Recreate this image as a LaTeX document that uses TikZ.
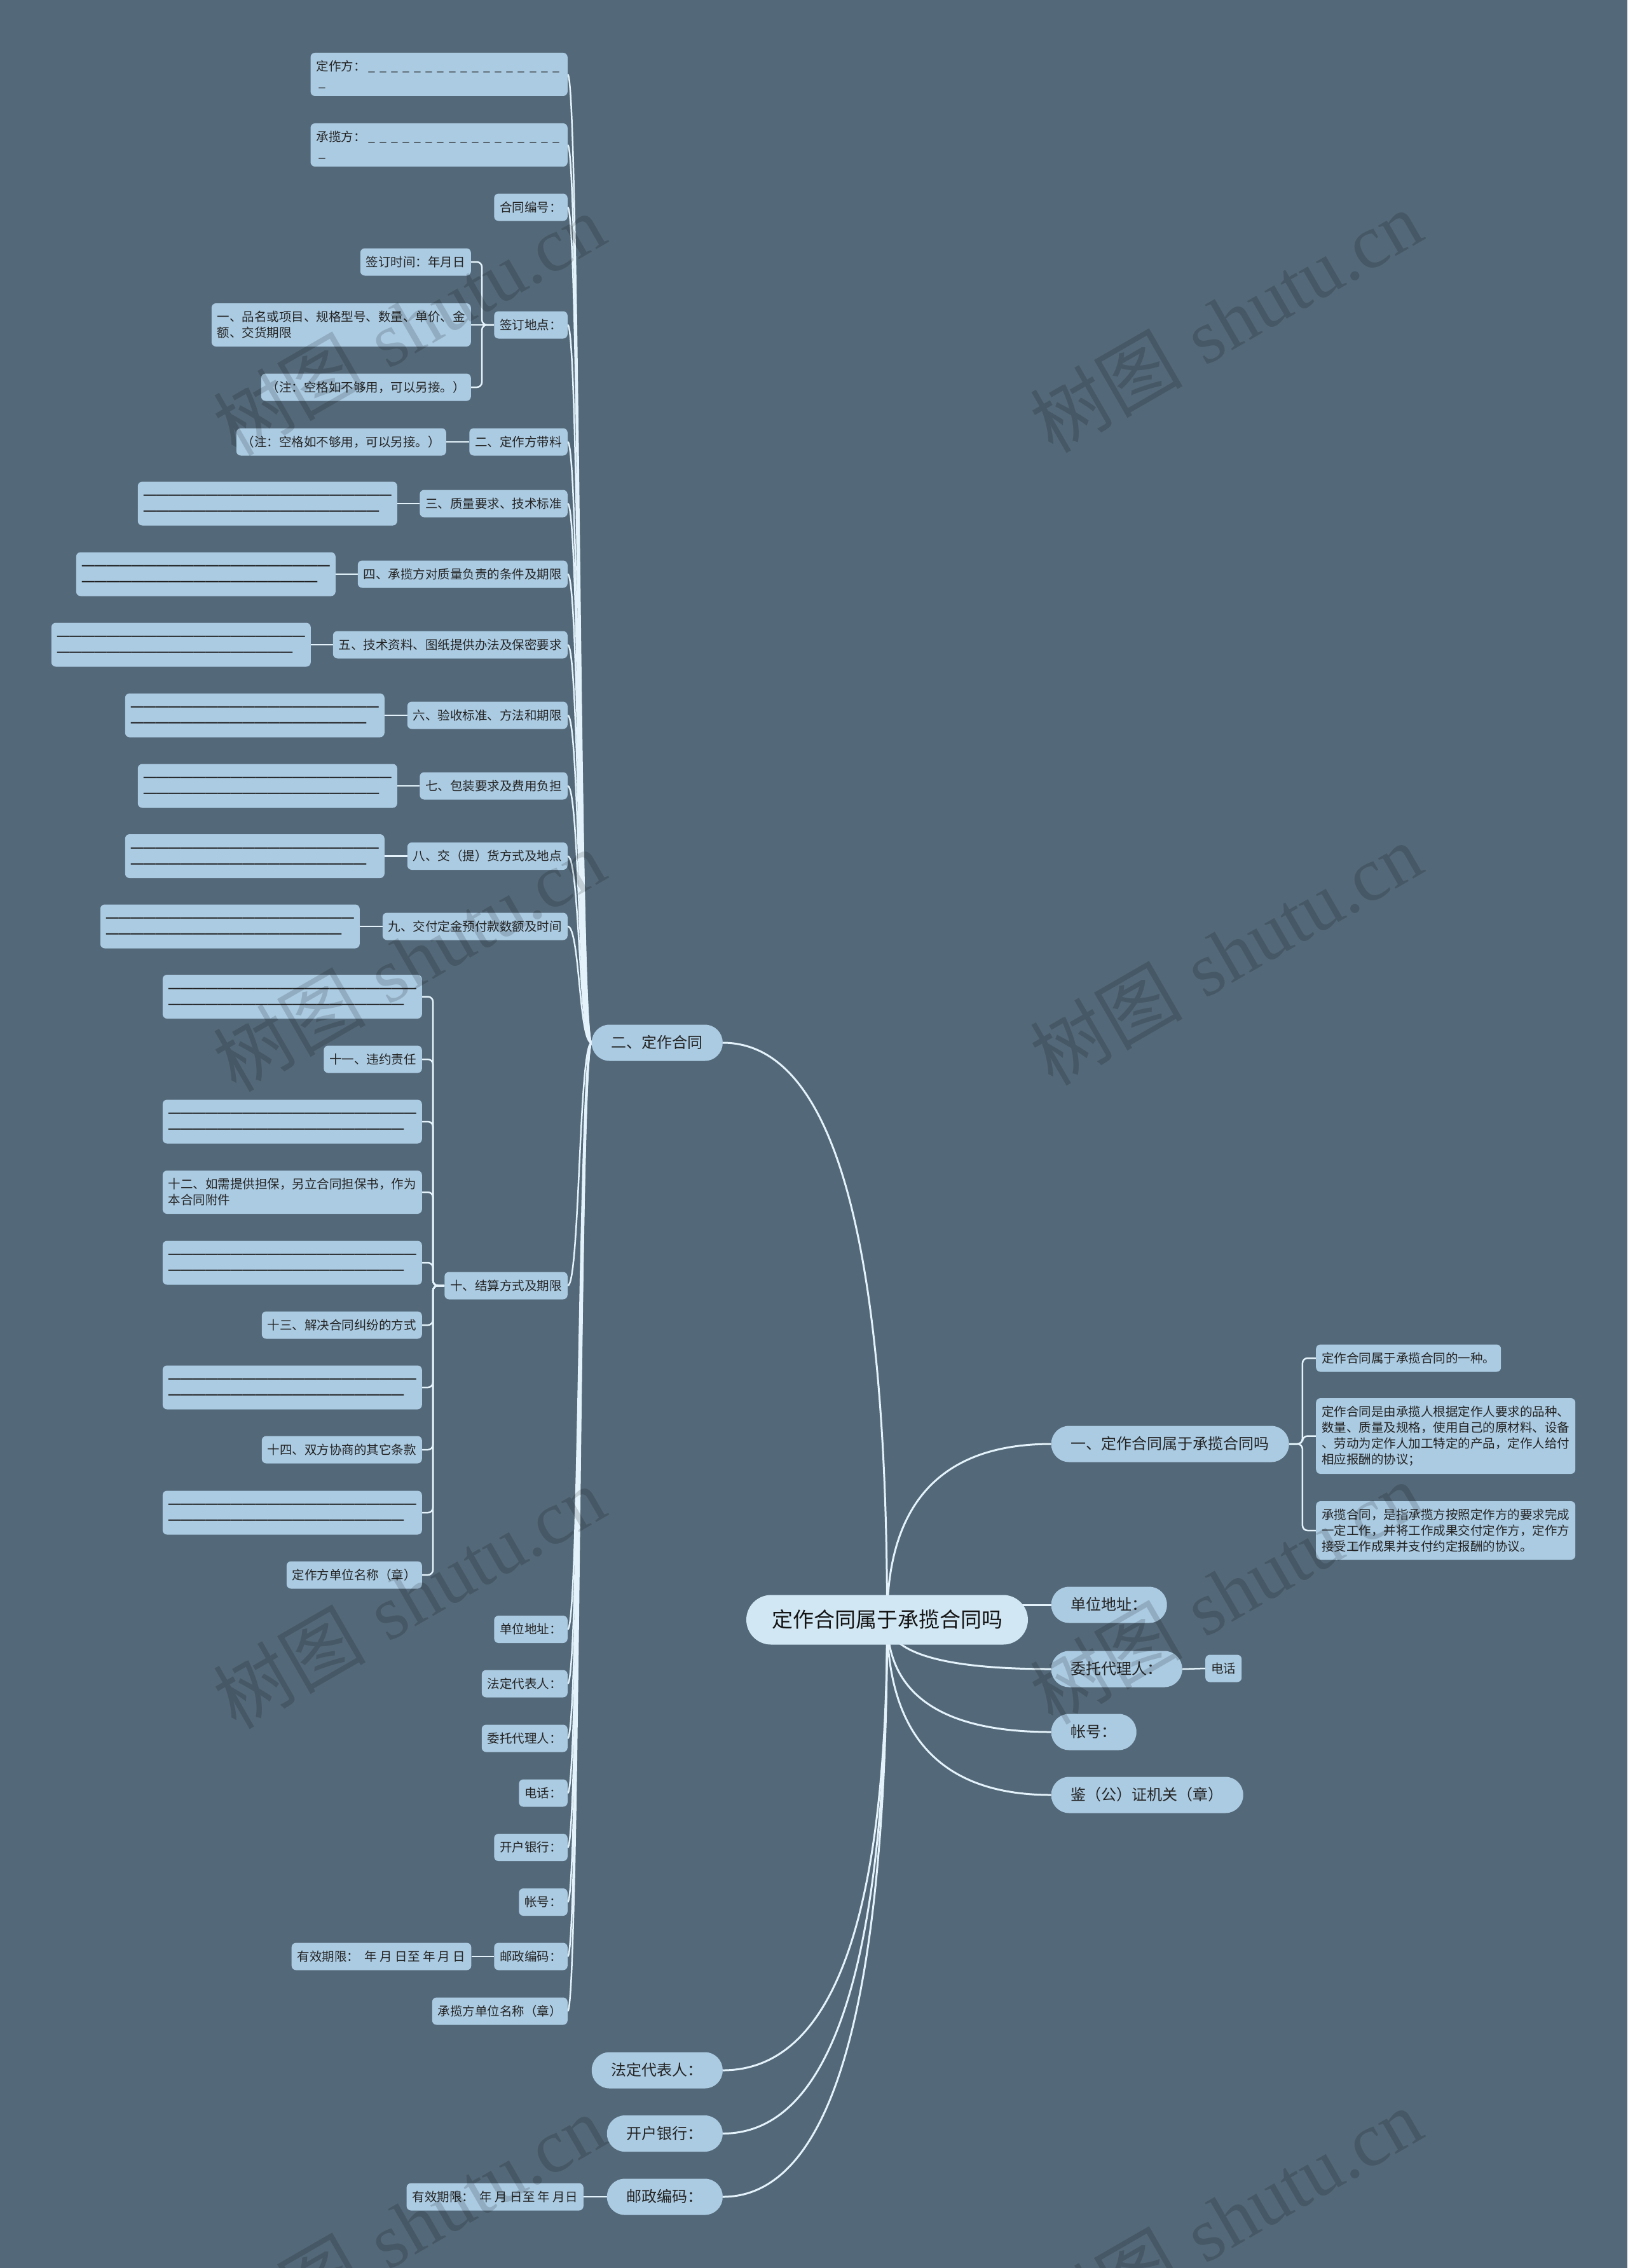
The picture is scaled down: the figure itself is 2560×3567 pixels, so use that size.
\documentclass[tikz,border=0pt]{standalone}
\usepackage{fontspec}
\newfontfamily\cjk{Noto Sans CJK SC}
\newfontfamily\lat{Liberation Sans}
\newfontfamily\wmlat{Liberation Serif}
\usetikzlibrary{calc}
\definecolor{bgc}{HTML}{536878}
\definecolor{nodec}{HTML}{ABCBE2}
\definecolor{rootc}{HTML}{D2E7F4}
\definecolor{linec}{HTML}{E4F3FB}
\definecolor{txtc}{HTML}{242424}
\pgfdeclarelayer{bg}
\pgfdeclarelayer{edges}
\pgfsetlayers{bg,edges,main}
\newcommand\zs{\vphantom{国}}
\newcommand\us{\makebox[0.93em]{\_}}
\newcommand\usrow{\us\us\us\us\us\us\us\us\us\us\us\us\us\us\us\us\us}
\newcommand\dashA{\raisebox{0.09em}{\lat\bfseries ————————————————————}}
\newcommand\dashB{\raisebox{0.09em}{\lat\bfseries ———————————————————}}
\newcommand\blanktext{\dashA\zs\\\dashB\zs}
\newcommand\rc[2]{%
  \coordinate (k#1) at (root.center |- #1.#2);
  \draw[conn] (#1.#2) .. controls ($(#1.#2)!0.6667!(k#1)$) and ($(root.center)!0.6667!(k#1)$) .. (root.center);}
\tikzset{
  l2common/.style={fill=nodec, rounded corners=7pt, font=\cjk\fontsize{19.5}{25}\selectfont, inner xsep=9pt, inner ysep=0pt, text=txtc},
  l2/.style={l2common, minimum height=43pt, text height=16pt, text depth=2pt},
  l2m/.style={l2common, align=left},
  blank/.style={l2m, minimum height=69pt, text=black!88},
  l1/.style={fill=nodec, rounded corners=28pt, font=\cjk\fontsize{24}{30}\selectfont, inner xsep=31pt, inner ysep=0pt, minimum height=57pt, text height=20pt, text depth=2.5pt, text=txtc},
  rootn/.style={fill=rootc, rounded corners=39pt, font=\cjk\fontsize{33}{40}\selectfont, inner xsep=40pt, inner ysep=0pt, minimum height=78pt, text height=27.5pt, text depth=3.5pt, text=black!92},
  conn/.style={draw=linec, line width=3pt},
  conn2/.style={draw=linec, line width=2.5pt},
  brk/.style={conn2, rounded corners=8pt},
  wm/.style={font=\fontsize{120}{120}\selectfont, text=black, text opacity=0.15, rotate=30, inner sep=0pt},
}
\begin{document}
\begin{tikzpicture}[x=1pt,y=-1pt]
\useasboundingbox (0,0) rectangle (2560,3567);
\begin{pgfonlayer}{bg}
\fill[bgc] (0,0) rectangle (2560,3567);
\end{pgfonlayer}

% root
\node[rootn] (root) at (1395.5,2547.5) {定作合同属于承揽合同吗};

% level 1, left
\node[l1, anchor=east] (n2) at (1137,1640) {二、定作合同};
\node[l1, anchor=east] (fd) at (1137,3256) {法定代表人：};
\node[l1, anchor=east] (kh) at (1137,3355.5) {开户银行：};
\node[l1, anchor=east] (yz) at (1137,3455) {邮政编码：};
\node[l2, anchor=east] (yzc) at (918,3455) {有效期限：\ \ 年 月 日至 年 月日};

% level 1, right
\node[l1, anchor=west] (n1) at (1653.5,2271) {一、定作合同属于承揽合同吗};
\node[l1, anchor=west] (dz) at (1653.5,2524) {单位地址：};
\node[l1, anchor=west] (wt) at (1653.5,2625) {委托代理人：};
\node[l1, anchor=west] (zh) at (1653.5,2724) {帐号：};
\node[l1, anchor=west] (jg) at (1653.5,2823) {鉴（公）证机关（章）};
\node[l2, anchor=west] (dh) at (1896,2624) {电话};

\node[l2, anchor=west] (r1) at (2070,2136) {定作合同属于承揽合同的一种。};
\node[l2m, anchor=west, minimum height=119pt] (r2) at (2070,2258.5) {定作合同是由承揽人根据定作人要求的品种、\\数量、质量及规格，使用自己的原材料、设备\\、劳动为定作人加工特定的产品，定作人给付\\相应报酬的协议；};
\node[l2m, anchor=west, minimum height=92pt] (r3) at (2070,2407) {承揽合同，是指承揽方按照定作方的要求完成\\一定工作，并将工作成果交付定作方，定作方\\接受工作成果并支付约定报酬的协议。};

% level 2 under 二、定作合同
\node[l2m, anchor=east, minimum height=68pt] (a1) at (893,117) {定作方：\usrow\\\us\zs};
\node[l2m, anchor=east, minimum height=68pt] (a2) at (893,228) {承揽方：\usrow\\\us\zs};
\node[l2, anchor=east] (a3) at (893,326) {合同编号：};
\node[l2, anchor=east] (a4) at (893,511) {签订地点：};
\node[l2, anchor=east] (a4c1) at (741,412) {签订时间：年月日};
\node[l2m, anchor=east, minimum height=68pt] (a4c2) at (741,511) {一、品名或项目、规格型号、数量、单价、金\\额、交货期限};
\node[l2, anchor=east] (a4c3) at (741,609) {（注：空格如不够用，可以另接。）};
\node[l2, anchor=east] (a5) at (893,695) {二、定作方带料};
\node[l2, anchor=east] (a5c) at (702,695) {（注：空格如不够用，可以另接。）};
\node[l2, anchor=east] (a6) at (893,792) {三、质量要求、技术标准};
\node[blank, anchor=east] (a6c) at (625,792) {\blanktext};
\node[l2, anchor=east] (a7) at (893,903) {四、承揽方对质量负责的条件及期限};
\node[blank, anchor=east] (a7c) at (528,903) {\blanktext};
\node[l2, anchor=east] (a8) at (893,1014) {五、技术资料、图纸提供办法及保密要求};
\node[blank, anchor=east] (a8c) at (489,1014) {\blanktext};
\node[l2, anchor=east] (a9) at (893,1125) {六、验收标准、方法和期限};
\node[blank, anchor=east] (a9c) at (605,1125) {\blanktext};
\node[l2, anchor=east] (a10) at (893,1236) {七、包装要求及费用负担};
\node[blank, anchor=east] (a10c) at (625,1236) {\blanktext};
\node[l2, anchor=east] (a11) at (893,1346.5) {八、交（提）货方式及地点};
\node[blank, anchor=east] (a11c) at (605,1346.5) {\blanktext};
\node[l2, anchor=east] (a12) at (893,1457) {九、交付定金预付款数额及时间};
\node[blank, anchor=east] (a12c) at (566,1457) {\blanktext};
\node[l2, anchor=east] (a13) at (893,2022) {十、结算方式及期限};
\node[blank, anchor=east] (b1) at (664,1567.5) {\blanktext};
\node[l2, anchor=east] (b2) at (664,1666) {十一、违约责任};
\node[blank, anchor=east] (b3) at (664,1764) {\blanktext};
\node[l2m, anchor=east, minimum height=68pt] (b4) at (664,1875) {十二、如需提供担保，另立合同担保书，作为\\本合同附件};
\node[blank, anchor=east] (b5) at (664,1986) {\blanktext};
\node[l2, anchor=east] (b6) at (664,2084) {十三、解决合同纠纷的方式};
\node[blank, anchor=east] (b7) at (664,2182) {\blanktext};
\node[l2, anchor=east] (b8) at (664,2280) {十四、双方协商的其它条款};
\node[blank, anchor=east] (b9) at (664,2379) {\blanktext};
\node[l2, anchor=east] (b10) at (664,2477) {定作方单位名称（章）};
\node[l2, anchor=east] (a14) at (893,2562.5) {单位地址：};
\node[l2, anchor=east] (a15) at (893,2648) {法定代表人：};
\node[l2, anchor=east] (a16) at (893,2734) {委托代理人：};
\node[l2, anchor=east] (a17) at (893,2820) {电话：};
\node[l2, anchor=east] (a18) at (893,2905.5) {开户银行：};
\node[l2, anchor=east] (a19) at (893,2991.5) {帐号：};
\node[l2, anchor=east] (a20) at (893,3077) {邮政编码：};
\node[l2, anchor=east] (a20c) at (741.5,3077) {有效期限：\ \ 年 月 日至 年 月 日};
\node[l2, anchor=east] (a21) at (893,3163) {承揽方单位名称（章）};

% connectors
\begin{pgfonlayer}{edges}
\rc{n2}{east}
\rc{fd}{east}
\rc{kh}{east}
\rc{yz}{east}
\rc{n1}{west}
\rc{wt}{west}
\rc{zh}{west}
\rc{jg}{west}
\draw[conn] (root.center |- dz.west) -- (dz.west);
\foreach \c in {a1,a2,a3,a4,a5,a6,a7,a8,a9,a10,a11,a12,a13,a14,a15,a16,a17,a18,a19,a20,a21}
  \draw[conn2] (n2.west) .. controls +(-20,0) and +(19,0) .. (\c.east);
\foreach \c in {a4c1,a4c3}
  \draw[brk] (a4.west) -- ++(-19,0) |- (\c.east);
\draw[conn2] (a4.west) -- (a4c2.east);
\foreach \c in {b1,b2,b3,b4,b5,b6,b7,b8,b9,b10}
  \draw[brk] (a13.west) -- ++(-18,0) |- (\c.east);
\foreach \c in {r1,r2,r3}
  \draw[brk] (n1.east) -- ++(21,0) |- (\c.west);
\foreach \p in {a5,a6,a7,a8,a9,a10,a11,a12,a20}
  \draw[conn2] (\p.west) -- (\p c.east);
\draw[conn2] (yz.west) -- (yzc.east);
\draw[conn2] (wt.east) -- (dh.west);
\end{pgfonlayer}

% watermarks
\foreach \i/\x/\y in {1/643/510, 2/1928/505, 3/643/1510, 4/1928/1500, 5/643/2512, 6/1928/2505, 7/643/3500, 8/1928/3490}
  \node[wm] (w\i) at (\x,\y) {{\cjk 树图} {\wmlat shutu.cn}};
\end{tikzpicture}
\end{document}
